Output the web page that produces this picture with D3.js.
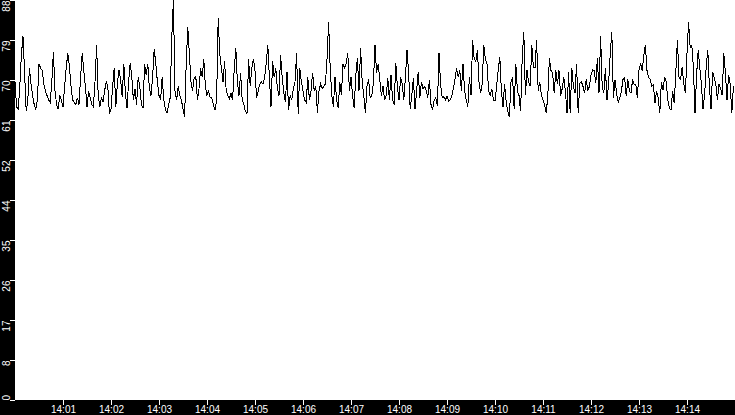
<!DOCTYPE html>
<html>
<head>
<meta charset="utf-8">
<script src="https://cdn.jsdelivr.net/npm/d3@7"></script>
<style>
html,body{margin:0;padding:0;background:#000;overflow:hidden;}
svg{display:block;}
text{font-family:"Liberation Sans",Arial,sans-serif;font-size:10px;fill:#fff;}
</style>
</head>
<body>
<svg id="chart" width="735" height="415"></svg>
<script>
// ---- data ----
const startTime = new Date(2024, 0, 1, 14, 0, 0);
const endTime = new Date(2024, 0, 1, 14, 15, 0);
const stepSeconds = 2;
const segA = [70,64.5,64,69,76,80,72,63.5,66,73,69.5,67,65,64,66,74,73,72.5,69.5,68,67,66,65.5,70,76.5,68,65,64,67,66,64.5,69,73,76.3,73.5,69,66,65.5,65,66.5,65,71,76.3,72.5,69,64.5,68,66.5,65,64.5,70,78,67,64.5,66.5,65.5,68,70,69,63,64,69,73];
const segB = [64.5,69.7,72.6,70.5,66.7,74,67.5,64.2,70,74.2,71,66,68.5,65,71.1,69,65,64.2,74,71.5,74,68.5,67,71,77.2,74,70,67,66,71.1,66,64,63.1,65,66.5,80,88,68,66,69,67,66,64,62.3,74,82,76,70,68,71,71.2,66,68.5,73,71,75,69,67,68,66.5,66.5,65,63.8,66,84,76,73,70,74.5,68,67,66.3,67.5,66,72.6];
const segC = [77.4,70,67,72,66,65,63.5,63,75,69,73,75,72.5,66.5,68,69.5,70,69.5,71,74,78.1,71,64.5,74.5,71,73,68.5,67,75.9,71,67.5,65.5,72.2,63.8,67,66,68.5,70,76.3,63,73,70,68,66,65.5,71,66,68,72,68,69,63.2,68,69.5,68.5,69,69.5,75,83.2,73,67,64.5];
const segD = [71,66,64.2,70,67,74,73,74,76.3,68,71,67,64.2,71.5,75.2,68,77.4,70,67,63.1,69,70.5,66.5,67,69.7,78.1,72,74,70.5,67,69,66,67,70.8,66,71.5,66,65,74.2,69,66,71,69.5,66,71,77,72,64,67,70.8,64,68,72.2,66.5,70,68.5,69,68,66.5,70.5,65,63.8,66];
const segE = [66.5,64.6,76.3,69.5,66.5,66.7,66,66.8,65.8,66,67,68.5,70.5,73,71,72.5,68,74,68,66,64.5,71,67,79.2,75,74.5,77,70,67.5,69.5,78.1,75,74,68,67,68.5,66,65.8,69,72.5,75.5,68,64.5,69.5,65.5,63.5,62.3,70,71,64,74,68,67,63.5,75.2,81,67,72.5,70,69,78.1,73.3];
const segF = [73,79.2,68,70,67,66,65,63.1,66.8,75.2,72.5,72,67.5,72.5,69.5,72.5,67,68.5,71,68,63.1,72.2,63.1,73,69,67.5,74,63.1,69.7,70,69,67.5,70.5,68,69,71.5,72.6,72.5,69.7,75.2,67.5,80,69,67.5,73,66,69.5,76,81,66.5,70.5,67.5,65.5,66.5,68,70.5,71,66.8,70.5,68,67.5,70.5,69.5];
const segG = [69.5,66.5,72.6,74.1,72.5,75.9,78.1,72.5,71,70.5,69,69.3,65.3,68,66.5,63.1,70,68.2,71.1,70,66,64.2,63.8,68,65.3,72,79.2,71,70.5,73.3,69.5,67.5,76.3,83.2,77.5,78,73.3,63.1,71.5,77,73,69.5,64,67,73.3,77,69,64,72.2,71,69.5,66,69.5,68.5,67,76.3,72,66,71.5,69.5,63.1,69];
const values = [].concat(segA, segB, segC, segD, segE, segF, segG);
const yMax = 88;
const yTickValues = [0, 8.8, 17.6, 26.4, 35.2, 44, 52.8, 61.6, 70.4, 79.2, 88];
const yTickLabels = ["0","8","17","26","35","44","52","61","70","79","88"];
const xTickLabels = ["14:01","14:02","14:03","14:04","14:05","14:06","14:07","14:08","14:09","14:10","14:11","14:12","14:13","14:14"];

// ---- chart ----
const W = 735, H = 415;
const margin = {left: 15, right: 0, top: 0, bottom: 15};
const svg = d3.select("#chart");

const x = d3.scaleTime().domain([startTime, endTime]).range([margin.left, W - margin.right]);
const y = d3.scaleLinear().domain([0, yMax]).range([H - margin.bottom, margin.top]);

const data = values.map((v, i) => ({t: new Date(startTime.getTime() + i * stepSeconds * 1000), v}));

svg.append("rect").attr("x", 0).attr("y", 0).attr("width", W).attr("height", H).attr("fill", "#000");
svg.append("rect")
  .attr("x", margin.left).attr("y", margin.top)
  .attr("width", W - margin.left - margin.right)
  .attr("height", H - margin.top - margin.bottom)
  .attr("fill", "#fff");

const line = d3.line().x(d => x(d.t)).y(d => y(d.v));
svg.append("path")
  .datum(data)
  .attr("d", line)
  .attr("fill", "none")
  .attr("stroke", "#000")
  .attr("stroke-width", 1)
  .attr("shape-rendering", "crispEdges");

// x axis
const xTickDates = xTickLabels.map(s => {
  const [hh, mm] = s.split(":").map(Number);
  return new Date(2024, 0, 1, hh, mm, 0);
});
const xAxis = d3.axisBottom(x)
  .tickValues(xTickDates)
  .tickFormat((d, i) => xTickLabels[i])
  .tickSize(5)
  .tickPadding(4);
const gx = svg.append("g")
  .attr("transform", `translate(0,${H - margin.bottom})`)
  .call(xAxis);
gx.select(".domain").remove();
gx.selectAll(".tick line").attr("stroke", "#fff").attr("shape-rendering", "crispEdges");
gx.selectAll(".tick text").attr("fill", "#fff").style("font-size", "10px")
  .attr("dy", null).attr("y", 13);

// y axis
const yAxis = d3.axisLeft(y)
  .tickValues(yTickValues)
  .tickFormat((d, i) => yTickLabels[i])
  .tickSize(5);
const gy = svg.append("g")
  .attr("transform", `translate(${margin.left},0)`)
  .call(yAxis);
gy.select(".domain").remove();
gy.selectAll(".tick line").attr("stroke", "#fff").attr("shape-rendering", "crispEdges");
gy.selectAll(".tick text")
  .attr("fill", "#fff")
  .style("font-size", "10px")
  .attr("x", null).attr("dy", null)
  .attr("transform", (d, i) => i === 0 ? "translate(-5.5,0) rotate(-90)" : "translate(-5.5,0) rotate(-90)")
  .attr("text-anchor", (d, i) => i === 0 ? "start" : "end");
</script>
</body>
</html>
